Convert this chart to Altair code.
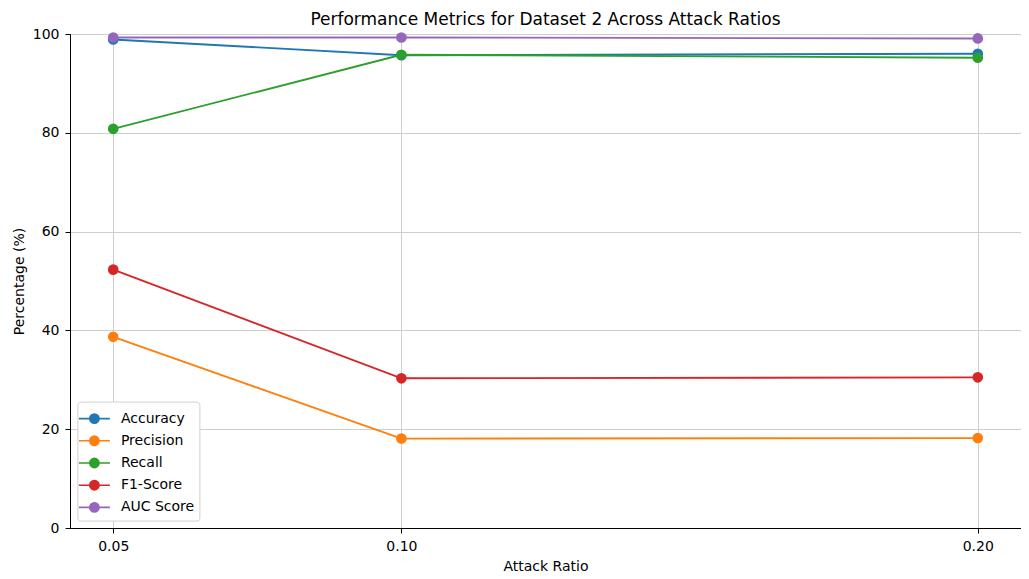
import altair as alt
import pandas as pd

ratios = [0.05, 0.10, 0.20]
metrics = ["Accuracy", "Precision", "Recall", "F1-Score", "AUC Score"]
accuracy = [98.9, 95.7, 96.0]
precision = [38.7, 18.1, 18.2]
recall = [80.8, 95.8, 95.2]
f1_score = [52.3, 30.3, 30.5]
auc_score = [99.3, 99.3, 99.1]
colors = ["#1f77b4", "#ff7f0e", "#2ca02c", "#d62728", "#9467bd"]
y_ticks = [0, 20, 40, 60, 80, 100]

series = [accuracy, precision, recall, f1_score, auc_score]
rows = []
for m, vals in zip(metrics, series):
    for r, v in zip(ratios, vals):
        rows.append({"ratio": r, "value": v, "metric": m})
df = pd.DataFrame(rows)

FONT = "DejaVu Sans"
sym_path = "M-1.4,0L1.4,0M-0.42,0A0.42,0.42,0,1,1,0.42,0A0.42,0.42,0,1,1,-0.42,0Z"

legend = alt.Legend(
    orient="none", legendX=7.4, legendY=367.6,
    symbolType=sym_path, symbolSize=490,
    symbolStrokeWidth=1.6, symbolOpacity=1,
    labelOffset=14.5, rowPadding=2.2, padding=5,
    fillColor="white", strokeColor="#d0d0d0", cornerRadius=3,
    labelFont=FONT, labelFontSize=14, labelColor="black",
)
cscale = alt.Scale(domain=metrics, range=colors)

base = alt.Chart(df).encode(
    x=alt.X("ratio:Q",
            scale=alt.Scale(domain=[0.0425, 0.2075], nice=False, zero=False),
            axis=alt.Axis(values=ratios, format=".2f", title="Attack Ratio")),
    y=alt.Y("value:Q",
            scale=alt.Scale(domain=[0, 100], nice=False),
            axis=alt.Axis(values=y_ticks, title="Percentage (%)")),
)

lines = base.mark_line(strokeWidth=1.9).encode(
    stroke=alt.Stroke("metric:N", scale=cscale, title=None, legend=legend),
)
points = base.mark_circle(size=75, opacity=1).encode(
    fill=alt.Fill("metric:N", scale=cscale, title=None, legend=legend),
    stroke=alt.Stroke("metric:N", scale=cscale, title=None, legend=legend),
)

chart = alt.layer(lines, points).properties(
    width=951, height=494,
    title=alt.Title("Performance Metrics for Dataset 2 Across Attack Ratios",
                    font=FONT, fontSize=17, fontWeight="normal", color="black",
                    offset=6, dy=8),
    autosize=alt.AutoSizeParams(type="none"),
    padding={"left": 62, "top": 26, "right": 0, "bottom": 50},
).configure_view(
    stroke="black", strokeWidth=1
).configure_axis(
    labelFont=FONT, labelFontSize=14, labelColor="black",
    titleFont=FONT, titleFontSize=14, titleFontWeight="normal", titleColor="black",
    domainColor="black", tickColor="black", tickSize=5,
    gridColor="#cfcfcf", gridWidth=1,
).configure_axisX(
    titlePadding=6, labelPadding=6,
).configure_axisY(
    titlePadding=6, labelPadding=6,
)

chart.save("out.html", embed_options={"renderer": "svg", "actions": False})
